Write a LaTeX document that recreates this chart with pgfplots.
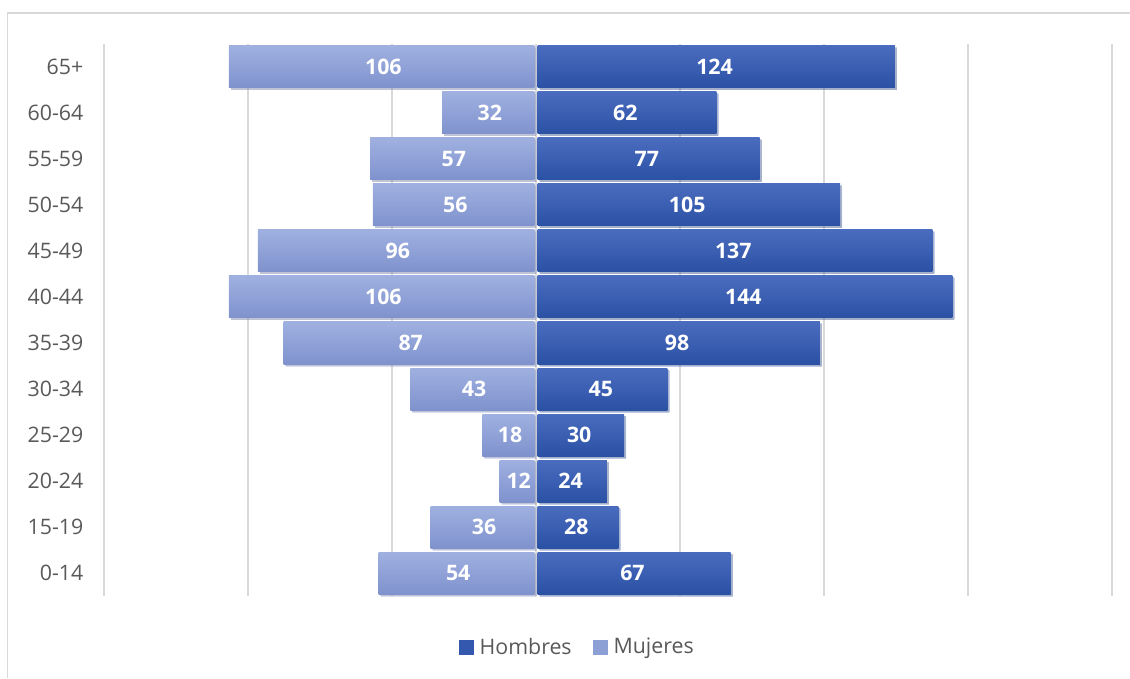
\documentclass[border=0pt]{standalone}
\usepackage{pgfplots}
\pgfplotsset{compat=1.18}
\usepackage{pgfplotstable}
\usepackage{fontspec}
\setmainfont{Open Sans}
\usetikzlibrary{shadows}
\definecolor{hcol}{HTML}{3358AE}
\definecolor{htop}{HTML}{4A6CBF}
\definecolor{hbot}{HTML}{2B51A4}
\definecolor{mcol}{HTML}{8DA0D6}
\definecolor{mtop}{HTML}{9FB0E0}
\definecolor{mbot}{HTML}{7F92CD}
\definecolor{gridc}{HTML}{D9D9D9}
\definecolor{txt}{HTML}{595959}
\pgfplotstableread{
idx h m
0 67 54
1 28 36
2 24 12
3 30 18
4 45 43
5 98 87
6 144 106
7 137 96
8 105 56
9 77 57
10 62 32
11 124 106
}\datatable
\begin{document}
\begin{tikzpicture}
\useasboundingbox (-78pt,-61.5pt) rectangle (769.5pt,447pt);
\draw[gridc, line width=1.1pt] (-72.4pt,-61.5pt) -- (-72.4pt,437.25pt) -- (769.5pt,437.25pt);
\begin{axis}[
  at={(0,0)}, anchor=south west,
  scale only axis,
  width=756pt, height=414pt,
  xmin=-150, xmax=200,
  ymin=-0.5, ymax=11.5,
  xtick={-150,-100,...,200},
  xticklabels={},
  xmajorgrids,
  grid style={gridc, line width=1.1pt},
  axis line style={draw=none},
  major tick length=0pt,
  ytick={0,...,11},
  yticklabels={0-14,15-19,20-24,25-29,30-34,35-39,40-44,45-49,50-54,55-59,60-64,65+},
  yticklabel style={font=\fontsize{16}{19}\selectfont, text=txt, anchor=east, xshift=-12pt},
  xbar, bar width=31.5pt, bar shift=0pt,
  legend columns=2,
  legend style={draw=none, at={(0.47,-0.0924)}, anchor=center, font=\fontsize{16}{19}\selectfont, text=txt,
    /tikz/every even column/.append style={column sep=14pt}},
  legend cell align=left,
  nodes near coords style={font=\bfseries\fontsize{16}{19}\selectfont, text=white, anchor=center,
    /pgf/number format/assume math mode=true},
]
\addlegendimage{legend image code/.code={\fill[hcol] (0pt,-5.2pt) rectangle (10.5pt,5.2pt); \path (13pt,0pt);}}
\addlegendentry{Hombres}
\addlegendimage{legend image code/.code={\fill[mcol] (0pt,-5.2pt) rectangle (10.5pt,5.2pt); \path (13pt,0pt);}}
\addlegendentry{Mujeres}
\pgfplotsinvokeforeach{0,...,11}{
\addplot[forget plot, draw=none, top color=htop, bottom color=hbot, xshift=1.3pt,
  drop shadow={shadow xshift=1.5pt, shadow yshift=-1.5pt, opacity=0.3},
  restrict y to domain=#1:#1]
  table[x=h, y=idx] {\datatable};
\addplot[forget plot, draw=none, top color=mtop, bottom color=mbot, xshift=-1.3pt,
  drop shadow={shadow xshift=1.5pt, shadow yshift=-1.5pt, opacity=0.3},
  restrict y to domain=#1:#1]
  table[x expr=-\thisrow{m}, y=idx] {\datatable};
}
\addplot[forget plot, draw=none, mark=none, sharp plot, nodes near coords, point meta=explicit]
  table[x expr=\thisrow{h}/2, y=idx, meta=h] {\datatable};
\addplot[forget plot, draw=none, mark=none, sharp plot, nodes near coords, point meta=explicit]
  table[x expr=-\thisrow{m}/2, y=idx, meta=m] {\datatable};
\end{axis}
\end{tikzpicture}
\end{document}
